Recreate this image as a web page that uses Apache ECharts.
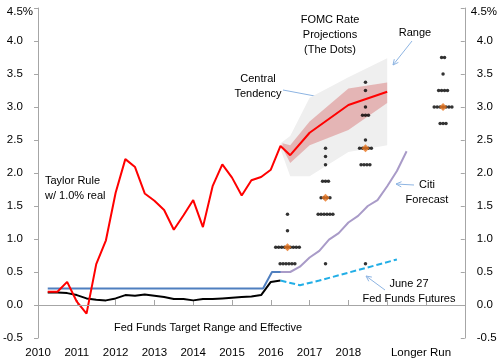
<!DOCTYPE html>
<html><head><meta charset="utf-8">
<script src="https://cdn.jsdelivr.net/npm/echarts@6/dist/echarts.min.js"></script>
<style>html,body{margin:0;padding:0;background:#fff}#c{width:500px;height:363px}</style>
</head><body><div id="c"></div>
<script>
// ---- data ----
const yearLabels = [2010, 2011, 2012, 2013, 2014, 2015, 2016, 2017, 2018];
const longerRunLabel = 'Longer Run';
const taylorRule = [[2010.25,0.20],[2010.5,0.20],[2010.75,0.35],[2011,0.05],[2011.25,-0.13],[2011.5,0.62],[2011.75,0.98],[2012,1.70],[2012.25,2.21],[2012.5,2.09],[2012.75,1.69],[2013,1.58],[2013.25,1.44],[2013.5,1.14],[2013.75,1.36],[2014,1.59],[2014.25,1.18],[2014.5,1.80],[2014.75,2.13],[2015,1.93],[2015.25,1.66],[2015.5,1.89],[2015.75,1.94],[2016,2.05],[2016.25,2.41],[2016.5,2.27]];
const taylorProjection = [[2017,2.61],[2018,3.03],[2019,3.23]];
const ctUpper = [[2016.3,2.45],[2016.5,2.42],[2017,2.78],[2018,3.28],[2019,3.37]];
const ctLower = [[2016.3,2.38],[2016.5,2.15],[2017,2.42],[2018,2.65],[2019,3.06]];
const rangeUpper = [[2016.25,2.45],[2016.5,2.56],[2017,3.14],[2018,3.45],[2019,3.74]];
const rangeLower = [[2016.25,2.36],[2016.5,1.95],[2017,1.95],[2018,2.32],[2019,2.42]];
const fedTarget = [[2010.25,0.25],[2015.8,0.25],[2016.03,0.5],[2016.28,0.5]];
const effectiveRate = [[2010.25,0.19],[2010.5,0.19],[2010.75,0.18],[2011,0.15],[2011.25,0.10],[2011.5,0.08],[2011.75,0.07],[2012,0.10],[2012.25,0.15],[2012.5,0.14],[2012.75,0.16],[2013,0.14],[2013.25,0.12],[2013.5,0.09],[2013.75,0.09],[2014,0.07],[2014.25,0.09],[2014.5,0.09],[2014.75,0.10],[2015,0.11],[2015.25,0.12],[2015.5,0.13],[2015.75,0.15],[2016,0.35],[2016.25,0.37]];
const citiForecast = [[2016.25,0.5],[2016.5,0.5],[2016.75,0.58],[2017,0.72],[2017.25,0.82],[2017.5,0.99],[2017.75,1.09],[2018,1.25],[2018.25,1.35],[2018.5,1.50],[2018.75,1.59],[2019,1.80],[2019.25,2.03],[2019.5,2.33]];
const futures = [[2016.25,0.37],[2016.75,0.30],[2017.25,0.37],[2017.75,0.45],[2018.25,0.53],[2018.75,0.61],[2019.25,0.69]];
const dotColumns = [2016.43, 2017.41, 2018.44, 2020.44];
const dots2016 = [[0.625,6],[0.875,9],[1.125,1],[1.375,1]];
const dots2017 = [[0.625,1],[1.375,6],[1.625,4],[1.875,3],[2.125,1],[2.25,1],[2.375,1]];
const dots2018 = [[0.625,1],[2.125,4],[2.375,5],[2.5,1],[2.875,3],[3.0,1],[3.25,1],[3.375,1]];
const dotsLongerRun = [[2.75,3],[3.0,7],[3.25,4],[3.5,1],[3.75,2]];
const medians = [0.875, 1.625, 2.375, 3.0];

// ---- build ----
const FONT = "'Liberation Sans', Arial, sans-serif";
const DOT_STEP = 0.076;
const dotGroups = [dots2016, dots2017, dots2018, dotsLongerRun];
const dotPoints = [];
dotGroups.forEach((g, i) => {
  g.forEach(([v, n]) => {
    for (let k = 0; k < n; k++) dotPoints.push([dotColumns[i] + (k - (n - 1) / 2) * DOT_STEP, v]);
  });
});
const medianPoints = medians.map((v, i) => [dotColumns[i], v]);

function band(upper, lower, color) {
  return {
    type: 'custom', z: 1, silent: true,
    data: [[upper[0][0], upper[0][1]]],
    renderItem: (params, api) => {
      const pts = upper.map(p => api.coord(p)).concat(lower.slice().reverse().map(p => api.coord(p)));
      return { type: 'polygon', shape: { points: pts }, style: { fill: color } };
    }
  };
}
function line(data, color, extra) {
  return Object.assign({ type: 'line', data, symbol: 'none', z: 3, silent: true,
    lineStyle: { color, width: 2 } }, extra || {});
}

const chart = echarts.init(document.getElementById('c'), null, { renderer: 'canvas' });
const axisGrey = '#a6a6a6';
chart.setOption({
  animation: false,
  grid: { left: 32, right: 32, top: 8, bottom: 25 },
  xAxis: {
    type: 'value', min: 2010, max: 2021, interval: 1,
    axisLine: { lineStyle: { color: axisGrey } },
    axisTick: { inside: true, length: 5, lineStyle: { color: axisGrey } },
    splitLine: { show: false },
    axisLabel: {
      margin: 9, color: '#000', fontFamily: FONT, fontSize: 11.5,
      formatter: v => yearLabels.includes(v) ? String(v) : (v === 2020 ? '{lr|' + longerRunLabel + '}' : ''),
      rich: { lr: { fontFamily: FONT, fontSize: 11.5, color: '#000', padding: [0, 10, 0, 0] } }
    }
  },
  yAxis: [{
    type: 'value', min: -0.5, max: 4.5, interval: 0.5, position: 'left',
    axisLine: { show: true, lineStyle: { color: axisGrey } },
    axisTick: { show: true, length: 4, lineStyle: { color: axisGrey } },
    splitLine: { show: false },
    axisLabel: {
      margin: 5, color: '#000', fontFamily: FONT, fontSize: 11.5,
      formatter: v => v === 4.5 ? '{t|4.5%}' : v.toFixed(1) + '{h|%}',
      rich: { h: { color: 'rgba(0,0,0,0)', fontFamily: FONT, fontSize: 11.5 },
              t: { color: '#000', fontFamily: FONT, fontSize: 11.5, padding: [8, 0, 0, 0] } }
    }
  }, {
    type: 'value', min: -0.5, max: 4.5, interval: 0.5, position: 'right',
    axisLine: { show: true, lineStyle: { color: axisGrey } },
    axisTick: { show: true, inside: true, length: 4, lineStyle: { color: axisGrey } },
    splitLine: { show: false },
    axisLabel: {
      margin: 6, color: '#000', fontFamily: FONT, fontSize: 11.5,
      formatter: v => v === 4.5 ? '{t|4.5%}' : '{h| }' + v.toFixed(1),
      rich: { h: { width: 6 }, t: { color: '#000', fontFamily: FONT, fontSize: 11.5, padding: [8, 0, 0, 0] } }
    }
  }],
  series: [
    band(rangeUpper, rangeLower, '#efefef'),
    band(ctUpper, ctLower, 'rgba(214,110,110,0.45)'),
    line(fedTarget, '#4f7fbf', {
      markLine: { silent: true, symbol: 'none', label: { show: false },
        lineStyle: { color: axisGrey, width: 1, type: 'solid' }, data: [{ yAxis: 0 }] }
    }),
    line(effectiveRate, '#000000'),
    line(citiForecast, '#a99bc8'),
    line(futures, '#22aee6', { lineStyle: { color: '#22aee6', width: 2, type: [6, 3] } }),
    line(taylorRule.concat(taylorProjection), '#ff0000', { z: 4 }),
    { type: 'scatter', data: dotPoints, symbol: 'circle', symbolSize: 3.5, z: 5, silent: true,
      itemStyle: { color: '#000' } },
    { type: 'scatter', data: medianPoints, symbol: 'diamond', symbolSize: 8, z: 6, silent: true,
      itemStyle: { color: '#e8741e' } }
  ]
});

// ---- annotations ----
const ARROW = '#8db4e2';
function arrow(x1, y1, x2, y2) {
  const a = Math.atan2(y2 - y1, x2 - x1), L = 6, s = 0.45;
  return { type: 'group', z: 100, silent: true, children: [
    { type: 'line', shape: { x1, y1, x2, y2 }, style: { stroke: ARROW, lineWidth: 1 } },
    { type: 'polyline', shape: { points: [[x2 - L * Math.cos(a - s), y2 - L * Math.sin(a - s)], [x2, y2], [x2 - L * Math.cos(a + s), y2 - L * Math.sin(a + s)]] },
      style: { stroke: ARROW, fill: null, lineWidth: 1 } }
  ]};
}
function label(text, x, y, align) {
  return { type: 'text', x, y, z: 100, silent: true,
    style: { text, fill: '#000', font: '11px ' + FONT, align: align || 'center', verticalAlign: 'middle', lineHeight: 15 } };
}
chart.setOption({ graphic: [
  label('FOMC Rate\nProjections\n(The Dots)', 330, 35),
  label('Range', 415, 33),
  arrow(412, 41, 393, 65),
  label('Central\nTendency', 258, 86.5),
  arrow(283, 90, 336, 100),
  label('Taylor Rule\nw/ 1.0% real', 45, 188.5, 'left'),
  label('Citi\nForecast', 427, 192.5),
  arrow(414, 185, 396, 184),
  label('June 27\nFed Funds Futures', 409, 291.5),
  arrow(385, 290, 366, 276),
  label('Fed Funds Target Range and Effective', 208, 328)
]});
</script></body></html>
